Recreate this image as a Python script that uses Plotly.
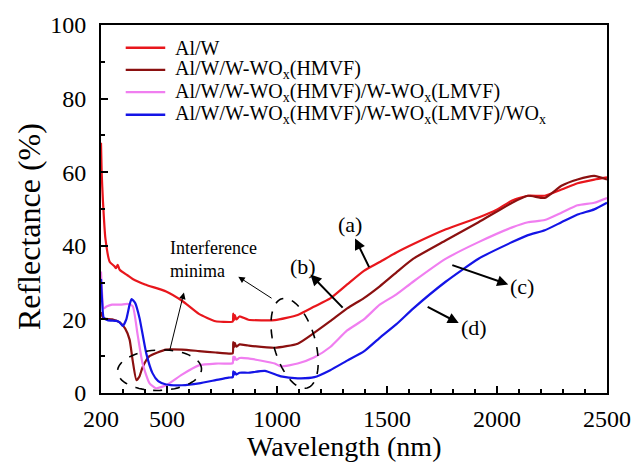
import numpy as np
import plotly.graph_objects as go

# ---------------- data ----------------
names = [
    "Al/W",
    "Al/W/W-WO<sub>x</sub>(HMVF)",
    "Al/W/W-WO<sub>x</sub>(HMVF)/W-WO<sub>x</sub>(LMVF)",
    "Al/W/W-WO<sub>x</sub>(HMVF)/W-WO<sub>x</sub>(LMVF)/WO<sub>x</sub>",
]
colors = ["#e8161c", "#8b1010", "#f07ef0", "#1414e6"]

wl_a = [200, 203, 209, 220, 240, 260, 268, 276, 285, 320, 344, 400, 496, 570, 645,
        721, 789, 799, 801, 804, 808, 815, 830, 870, 990, 1094, 1170, 1242, 1319,
        1395, 1467, 1543, 1620, 1768, 1916, 1992, 2069, 2141, 2217, 2293, 2366,
        2442, 2500]
r_a = [68, 60, 52, 42, 35.6, 34.5, 33.9, 34.8, 33.5, 32, 31, 29.5, 27.6, 25, 21.5,
       19.5, 19.3, 19.4, 21.6, 19.8, 21.2, 20.0, 20.8, 19.9, 19.8, 21.2, 23.5, 25.7,
       29.5, 33.2, 35.6, 38.2, 40.5, 44.5, 47.7, 49.6, 52.3, 53.6, 53.6, 55.3, 57.0,
       58.0, 58.6]

wl_b = [200, 205, 212, 250, 285, 310, 330, 344, 361, 375, 389, 420, 496, 568, 645,
        721, 789, 799, 801, 804, 808, 815, 830, 869, 990, 1094, 1170, 1242, 1319,
        1395, 1467, 1543, 1620, 1768, 1916, 2069, 2141, 2217, 2293, 2366, 2442, 2500]
r_b = [22, 21, 20.3, 20, 19.2, 17.5, 14.5, 8.8, 3.5, 4.5, 7, 10.0, 11.8, 11.8, 11.4,
       11.0, 10.7, 10.8, 13.8, 12.4, 13.6, 12.6, 13.2, 12.9, 12.3, 13.4, 16.4, 19.5,
       23, 25.8, 29, 32.8, 36.5, 41.5, 46.4, 51.7, 53.6, 53.0, 56.3, 58.0, 59.0, 58.0]

wl_c = [200, 205, 212, 225, 250, 290, 320, 344, 366, 389, 420, 451, 496, 568, 645,
        721, 789, 799, 801, 804, 808, 815, 830, 869, 990, 1018, 1094, 1170, 1242,
        1319, 1395, 1467, 1543, 1620, 1768, 1916, 2069, 2141, 2217, 2293, 2366, 2442,
        2500]
r_c = [33, 27, 23, 23.5, 24, 24, 24.2, 23.6, 16, 8, 2.7, 1.3, 2.1, 5.0, 7.5, 8, 8,
       8.1, 9.9, 8.9, 9.8, 9.0, 9.5, 9.4, 8.0, 7.2, 8.0, 9.7, 12.5, 17, 20, 24, 26.8,
       30.3, 36.5, 41, 45, 46.4, 47, 49, 51, 51.7, 53]

wl_d = [200, 205, 212, 230, 270, 285, 299, 315, 330, 339, 355, 375, 406, 434, 460,
        496, 568, 645, 721, 780, 799, 801, 804, 808, 815, 830, 869, 945, 1018, 1094,
        1170, 1242, 1319, 1395, 1467, 1543, 1620, 1768, 1916, 2069, 2141, 2217, 2293,
        2366, 2442, 2500]
r_d = [31, 25, 20.5, 19.8, 19.6, 19.2, 18.2, 20, 24, 25.5, 24.5, 20.4, 10.7, 5.4,
       3.2, 2.3, 2.1, 2.6, 3.5, 4.2, 4.3, 5.9, 4.9, 5.7, 5.0, 5.5, 5.5, 6.0, 4.5, 4.0,
       4.3, 6.2, 8.8, 11.3, 15, 18.7, 23, 30.3, 36.5, 41, 42.9, 44.2, 46.4, 48.5,
       49.9, 51.7]

series_x = [wl_a, wl_b, wl_c, wl_d]
series_y = [r_a, r_b, r_c, r_d]

x_ticks = [200, 500, 1000, 1500, 2000, 2500]
y_ticks = [0, 20, 40, 60, 80, 100]
x_title = "Wavelength (nm)"
y_title = "Reflectance (%)"

# ---------------- figure ----------------
FONT = "Liberation Serif"
W, H = 643, 465
ML, MR, MT, MB = 101, 30, 20, 72
XR, YR = (200, 2500), (0, 100)
pw, ph = W - ML - MR, H - MT - MB
sx = pw / (XR[1] - XR[0])   # px per nm
sy = ph / (YR[1] - YR[0])   # px per %


def px_x(px):   # screen x (px) -> paper
    return (px - ML) / pw


def px_y(py):   # screen y (px) -> paper
    return (MT + ph - py) / ph


fig = go.Figure()
for xs, ys, nm, col in zip(series_x, series_y, names, colors):
    fig.add_trace(go.Scatter(x=xs, y=ys, mode="lines", name=nm, showlegend=False,
                             line=dict(color=col, width=2.2, shape="spline",
                                       smoothing=0.5)))


def ellipse_path(cx, cy, a_px, b_px, ang_deg):
    """Dashed ellipse outline; centre in data units, semi-axes in pixels,
    major axis tilted ang_deg from vertical (screen coordinates)."""
    t = np.linspace(0, 2 * np.pi, 73)
    ang = np.deg2rad(ang_deg)
    ux, uy = np.sin(ang), np.cos(ang)
    vx, vy = np.cos(ang), -np.sin(ang)
    dx = a_px * np.cos(t) * ux + b_px * np.sin(t) * vx
    dy = a_px * np.cos(t) * uy + b_px * np.sin(t) * vy
    xs = cx + dx / sx
    ys = cy - dy / sy
    return "M " + " L ".join(f"{x:.2f},{y:.3f}" for x, y in zip(xs, ys)) + " Z"


fig.add_shape(type="path", xref="x", yref="y",
              path=ellipse_path(466, 6.2, 42.5, 20.5, 92),
              line=dict(color="black", width=1.6, dash="dash"))
fig.add_shape(type="path", xref="x", yref="y",
              path=ellipse_path(1080, 13.5, 47, 21, 15.7),
              line=dict(color="black", width=1.6, dash="dash"))

ann = []
# legend (lines + labels) placed in paper coordinates
leg_rows_px = [43, 65.5, 88, 111]
for nm, col, ry in zip(names, colors, leg_rows_px):
    fig.add_shape(type="line", xref="paper", yref="paper",
                  x0=px_x(126), x1=px_x(166), y0=px_y(ry), y1=px_y(ry),
                  line=dict(color=col, width=2.4))
    ann.append(dict(x=px_x(174), y=px_y(ry), xref="paper", yref="paper",
                    xanchor="left", yanchor="middle", text=nm, showarrow=False,
                    font=dict(family=FONT, size=20, color="black")))

# curve labels with arrows: (label, text pos, tail, head)
labels = [
    ("(a)", (1332, 45.8), (1422, 33.8), (1355, 42.0)),
    ("(b)", (1116, 34.3), (1305, 22.8), (1152, 32.2)),
    ("(c)", (2114, 29.0), (1790, 34.9), (2051, 29.5)),
    ("(d)", (1894, 17.7), (1678, 23.6), (1826, 19.0)),
]
for txt, (tx, ty), (ax, ay), (hx, hy) in labels:
    ann.append(dict(x=hx, y=hy, ax=ax, ay=ay, xref="x", yref="y", axref="x", ayref="y",
                    text="", showarrow=True, arrowhead=2, arrowsize=1.1,
                    arrowwidth=2, arrowcolor="black"))
    ann.append(dict(x=tx, y=ty, xref="x", yref="y", text=txt, showarrow=False,
                    font=dict(family=FONT, size=22, color="black")))

for (ax, ay), (hx, hy) in [((510, 11.0), (577, 27.3)), ((982, 25.5), (824, 31.6))]:
    ann.append(dict(x=hx, y=hy, ax=ax, ay=ay, xref="x", yref="y", axref="x", ayref="y",
                    text="", showarrow=True, arrowhead=2, arrowsize=1.3,
                    arrowwidth=1, arrowcolor="black"))
ann.append(dict(x=505, y=36.2, xref="x", yref="y", xanchor="left", yanchor="middle",
                align="left", text="Interference<br>minima", showarrow=False,
                font=dict(family=FONT, size=18, color="black")))

# axis titles
ann.append(dict(x=px_x(347), y=px_y(429), xref="paper", yref="paper",
                xanchor="center", yanchor="top", text=x_title, showarrow=False,
                font=dict(family=FONT, size=28, color="black")))
ann.append(dict(x=px_x(28), y=px_y(224), xref="paper", yref="paper",
                xanchor="center", yanchor="middle", text=y_title, textangle=-90,
                showarrow=False, font=dict(family=FONT, size=32, color="black")))

axis_common = dict(showline=True, linecolor="black", linewidth=2, mirror=True,
                   showgrid=False, zeroline=False, ticks="inside", tickcolor="black",
                   tickwidth=2, ticklen=7,
                   tickfont=dict(family=FONT, size=24, color="black"))

fig.update_layout(
    width=W, height=H,
    margin=dict(l=ML, r=MR, t=MT, b=MB),
    paper_bgcolor="white", plot_bgcolor="white",
    font=dict(family=FONT, color="black"),
    showlegend=False,
    annotations=ann,
    xaxis=dict(range=list(XR), tickmode="array", tickvals=x_ticks,
               ticktext=[str(v) for v in x_ticks], ticklabelstandoff=3,
               minor=dict(tickmode="array", tickvals=list(range(300, 2500, 100)),
                          ticks="inside", ticklen=4, tickwidth=1.5, tickcolor="black"),
               **axis_common),
    yaxis=dict(range=list(YR), tickmode="array", tickvals=y_ticks,
               ticklabelstandoff=8,
               minor=dict(tickmode="array", tickvals=[10, 30, 50, 70, 90],
                          ticks="inside", ticklen=4, tickwidth=1.5, tickcolor="black"),
               **axis_common),
)

fig.write_html("out.html", config={"displayModeBar": False},
               post_script="document.body.style.margin='0';document.body.style.padding='0';")
